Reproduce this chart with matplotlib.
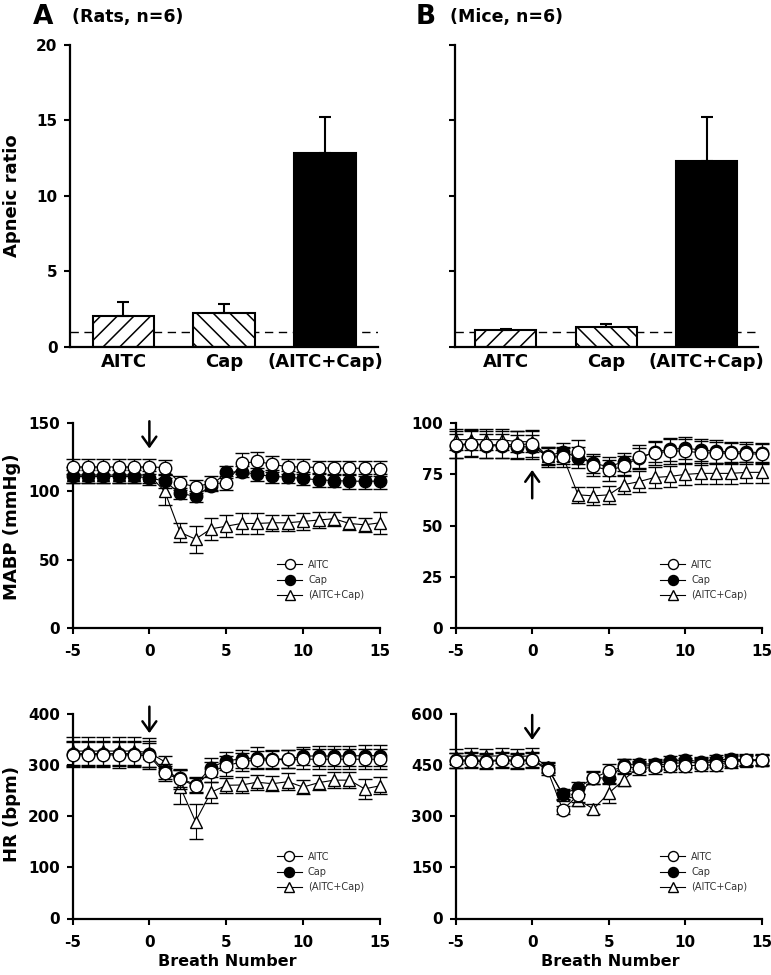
import numpy as np
import matplotlib
matplotlib.use("Agg")
import matplotlib.pyplot as plt

plt.rcParams['font.family'] = ['DejaVu Sans']
plt.rcParams['axes.unicode_minus'] = False
plt.rcParams['hatch.linewidth'] = 1.1
plt.rcParams['hatch.color'] = 'black'

#data#
bar_labels = ['AITC', 'Cap', '(AITC+Cap)']
rat_apnea = [2.05, 2.25, 12.85]
rat_apnea_se = [0.95, 0.6, 2.4]
mouse_apnea = [1.13, 1.35, 12.35]
mouse_apnea_se = [0.03, 0.17, 2.86]

breath = list(range(-5, 16))
series_labels = ['AITC', 'Cap', '(AITC+Cap)']

rat_mabp_aitc = [118, 118, 118, 118, 118, 118, 117.5, 106, 103.5, 106, 106, 120.5, 122, 120, 118, 118, 117.5, 117, 117, 117, 116.5]
rat_mabp_aitc_se = [5.5, 5.5, 5.5, 5.5, 5.5, 5.5, 5.5, 5, 5, 5, 5, 7.5, 7, 6, 5.5, 5.5, 5, 5, 5, 5.5, 5.5]
rat_mabp_cap = [111, 111, 111, 111, 111, 110, 107.5, 98.5, 96.5, 104, 114, 114.5, 112.5, 111, 110.5, 109.5, 108.5, 108, 107.5, 107.5, 107.5]
rat_mabp_cap_se = [5, 5, 5, 5, 5, 5, 5, 4, 4, 4, 4.5, 4, 4.5, 4.5, 4.5, 5, 5, 5, 5.5, 5.5, 5.5]
rat_mabp_both = [112, 112, 112, 112, 112, 112, 100, 70, 65, 72.5, 74.5, 76.5, 76.5, 77, 77, 78, 79, 80, 76.5, 75.5, 77]
rat_mabp_both_se = [6, 6, 6, 6, 6, 6, 10, 7, 10, 8, 8, 8, 8, 6, 6, 6, 6, 5, 5, 5, 8]

mouse_mabp_aitc = [89.5, 90, 89.5, 89.5, 89.5, 90, 83.5, 83.5, 86, 79, 77, 79, 83.5, 85.5, 86.3, 86.5, 85.5, 85.5, 85.3, 85, 85]
mouse_mabp_aitc_se = [6.5, 6.5, 6.5, 6.5, 6.5, 6.5, 5, 5, 6, 5, 5, 5, 6, 6, 6, 6, 6, 5.5, 5, 5, 5]
mouse_mabp_cap = [89, 90, 89, 89, 88.5, 88.5, 84, 86, 83.2, 80.4, 78.8, 81.2, 83, 86, 87.3, 87.8, 87, 86.3, 86, 86, 85.6]
mouse_mabp_cap_se = [6, 6, 6, 6, 6, 6, 4.5, 4.5, 5, 4.5, 4.5, 4.5, 5, 5, 5.5, 5.5, 5.5, 5.5, 5, 5, 5]
mouse_mabp_both = [92, 92, 92, 92, 91, 91, 84, 84, 65, 64.5, 65, 70, 71.5, 73.5, 74, 75, 75.5, 75.5, 75.5, 76, 76]
mouse_mabp_both_se = [5, 5, 5, 5, 5, 5, 4, 4, 4, 4.5, 4.5, 4.5, 5, 5, 5, 5, 5, 5, 5, 5, 5]

rat_hr_aitc = [321, 321, 321, 320, 321, 318, 284.5, 272.5, 260, 287.5, 299, 307, 310.5, 310.5, 312, 312, 312, 312, 312, 312, 312]
rat_hr_aitc_se = [25, 25, 25, 25, 25, 25, 15, 18, 15, 20, 20, 18, 18, 18, 18, 20, 20, 20, 20, 20, 20]
rat_hr_cap = [323, 323, 323, 323, 323, 322, 288, 275, 262, 295.5, 309, 312.5, 315, 313, 312, 318, 318.5, 318, 318.5, 319, 319]
rat_hr_cap_se = [25, 25, 25, 25, 25, 25, 15, 18, 15, 18, 18, 18, 20, 18, 18, 18, 20, 20, 20, 20, 20]
rat_hr_both = [328, 328, 328, 328, 328, 325, 307, 258, 190, 247, 261, 261.5, 267, 264, 268, 257.5, 266, 271, 271, 254, 260]
rat_hr_both_se = [28, 28, 28, 28, 28, 28, 12, 33, 35, 20, 15, 15, 15, 15, 17, 14, 15, 15, 15, 20, 17]

mouse_hr_aitc = [463, 463, 460, 465, 462, 465, 436, 319, 363, 412, 433, 446, 441, 444, 448, 448, 451, 451, 461, 466, 466]
mouse_hr_aitc_se = [22, 22, 22, 22, 22, 22, 15, 12, 20, 18, 22, 22, 20, 18, 18, 18, 18, 18, 18, 18, 18]
mouse_hr_cap = [465, 466, 464, 466, 465, 466, 442, 366, 383, 414, 412, 452, 454, 454, 463, 466, 461, 466, 468, 466, 465]
mouse_hr_cap_se = [22, 22, 22, 22, 22, 22, 15, 15, 18, 18, 18, 18, 15, 15, 15, 15, 15, 15, 15, 15, 15]
mouse_hr_both = [476, 478, 477, 478, 476, 478, 446, 363, 349, 322, 368, 408, 447, 450, 455, 458, 458, 460, 462, 463, 465]
mouse_hr_both_se = [22, 22, 22, 22, 22, 22, 15, 15, 18, 15, 30, 20, 15, 15, 15, 15, 15, 15, 15, 15, 15]

W, H = 771, 975
fig = plt.figure(figsize=(W/100, H/100), dpi=100)

def rect(left, bottom, right, top):
    return [left/W, 1-bottom/H, (right-left)/W, (bottom-top)/H]

def style_axes(ax):
    for s in ['top', 'right']:
        ax.spines[s].set_visible(False)
    for s in ['left', 'bottom']:
        ax.spines[s].set_linewidth(1.6)
    ax.tick_params(direction='out', length=4, width=1.5, labelsize=11, pad=5)
    for t in ax.get_xticklabels() + ax.get_yticklabels():
        t.set_fontweight('bold')

#bar charts#
def bar_panel(ax, vals, errs, xlim, width, show_ylabels):
    x = np.arange(len(vals))
    ax.axhline(1, color='black', lw=1, ls=(0, (6, 4)), zorder=1)
    ax.bar(x, vals, width=width, color=['white', 'white', 'black'], edgecolor='black',
           linewidth=1.5, hatch=['//', '\\\\', None], zorder=2)
    ax.errorbar(x, vals, yerr=[np.zeros(len(errs)), errs], fmt='none', ecolor='black',
                elinewidth=1.5, capsize=4.3, capthick=1.5, zorder=3)
    ax.set_xlim(*xlim)
    ax.set_ylim(0, 20)
    ax.set_yticks([0, 5, 10, 15, 20])
    ax.set_xticks(x)
    ax.set_xticklabels(bar_labels)
    style_axes(ax)
    ax.tick_params(axis='x', length=0, pad=4, labelsize=13)
    for t in ax.get_xticklabels():
        t.set_fontweight('bold')
    if not show_ylabels:
        ax.set_yticklabels([])

axA = fig.add_axes(rect(70, 347, 378, 45))
bar_panel(axA, rat_apnea, rat_apnea_se, (-0.531, 2.526), 0.615, True)
axB = fig.add_axes(rect(455, 347, 758, 45))
bar_panel(axB, mouse_apnea, mouse_apnea_se, (-0.507, 2.51), 0.607, False)

#line charts#
def line_panel(ax, data, errs, ymax, yticks, arrow, leg_pos):
    markers = ['o', 'o', '^']
    faces = ['white', 'black', 'white']
    conts = {}
    for i in [2, 1, 0]:
        c = ax.errorbar(breath, data[i], yerr=errs[i], fmt='-' + markers[i], color='black', lw=0.8,
                        markersize=9, markerfacecolor=faces[i], markeredgecolor='black', markeredgewidth=1.0,
                        ecolor='black', elinewidth=0.8, capsize=4.7, capthick=0.8,
                        zorder=3 + (2 - i), clip_on=False)
        conts[i] = c
    ax.set_xlim(-5, 15)
    ax.set_ylim(0, ymax)
    ax.set_xticks([-5, 0, 5, 10, 15])
    ax.set_yticks(yticks)
    style_axes(ax)
    ax.tick_params(axis='x', pad=8)
    ax.annotate('', xy=(0, arrow[1]), xytext=(0, arrow[0]), annotation_clip=False,
                arrowprops=dict(arrowstyle='->,head_length=0.7,head_width=0.5', lw=1.8,
                                color='black', shrinkA=0, shrinkB=0))
    leg = ax.legend([conts[i][0] for i in range(3)], series_labels, loc='center left',
                    bbox_to_anchor=leg_pos, frameon=False, fontsize=7,
                    borderpad=0, borderaxespad=0, handlelength=2.6, handletextpad=0.6,
                    labelspacing=0.55, markerscale=0.8)
    for t in leg.get_texts():
        t.set_color('#333333')

ax1 = fig.add_axes(rect(72.5, 627.7, 380, 423.3))
line_panel(ax1, [rat_mabp_aitc, rat_mabp_cap, rat_mabp_both],
           [rat_mabp_aitc_se, rat_mabp_cap_se, rat_mabp_both_se],
           150, [0, 50, 100, 150], (151.5, 131.5), (0.665, 0.233))
ax2 = fig.add_axes(rect(455.7, 627.7, 761.7, 423.3))
line_panel(ax2, [mouse_mabp_aitc, mouse_mabp_cap, mouse_mabp_both],
           [mouse_mabp_aitc_se, mouse_mabp_cap_se, mouse_mabp_both_se],
           100, [0, 25, 50, 75, 100], (63.3, 77.2), (0.668, 0.233))
ax3 = fig.add_axes(rect(72.5, 918.5, 380, 714.3))
line_panel(ax3, [rat_hr_aitc, rat_hr_cap, rat_hr_both],
           [rat_hr_aitc_se, rat_hr_cap_se, rat_hr_both_se],
           400, [0, 100, 200, 300, 400], (415, 363), (0.664, 0.228))
ax4 = fig.add_axes(rect(455.7, 918.5, 761.7, 714.3))
line_panel(ax4, [mouse_hr_aitc, mouse_hr_cap, mouse_hr_both],
           [mouse_hr_aitc_se, mouse_hr_cap_se, mouse_hr_both_se],
           600, [0, 150, 300, 450, 600], (598, 524.5), (0.668, 0.228))

#labels#
def ftext(x, y, s, **kw):
    fig.text(x/W, 1-y/H, s, fontweight='bold', **kw)

ftext(33, 17, 'A', fontsize=19, ha='left', va='center')
ftext(72, 17, '(Rats, n=6)', fontsize=12.5, ha='left', va='center')
ftext(416, 17, 'B', fontsize=19, ha='left', va='center')
ftext(450, 17, '(Mice, n=6)', fontsize=12.5, ha='left', va='center')
ftext(12, 196, 'Apneic ratio', fontsize=13, rotation=90, ha='center', va='center')
ftext(12, 527, 'MABP (mmHg)', fontsize=13, rotation=90, ha='center', va='center')
ftext(12, 814, 'HR (bpm)', fontsize=13, rotation=90, ha='center', va='center')
ftext(227, 962, 'Breath Number', fontsize=11.5, ha='center', va='center')
ftext(610, 962, 'Breath Number', fontsize=11.5, ha='center', va='center')

plt.savefig('out.png', dpi=100)
